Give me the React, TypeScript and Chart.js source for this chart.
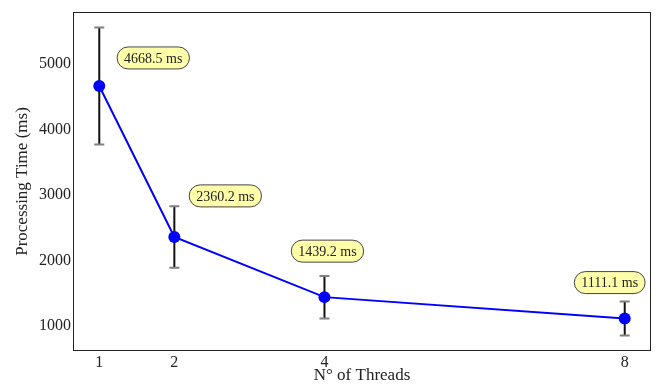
import React, { useEffect, useRef } from "react";
import { Chart, registerables } from "chart.js";

Chart.register(...registerables);

const threads = [1, 2, 4, 8];
const times = [4668.5, 2360.2, 1439.2, 1111.1];
const errors = [895, 470, 325, 260];
const yTicks = [1000, 2000, 3000, 4000, 5000];
const pointLabels = times.map((t) => `${t.toFixed(1)} ms`);

const FONT = "'Liberation Serif', 'Times New Roman', serif";
const LABEL_OFFSETS = [
  [54, -28],
  [51, -41],
  [3, -46],
  [-15, -36],
];

const lo = Math.min(...times.map((t, i) => t - errors[i]));
const hi = Math.max(...times.map((t, i) => t + errors[i]));
const pad = (hi - lo) * 0.05;
const xPad = (threads[threads.length - 1] - threads[0]) * 0.05;

const overlay = {
  id: "overlay",
  beforeDatasetsDraw(chart: any) {
    const { ctx, chartArea, scales } = chart;
    const xs = scales.x;
    const ys = scales.y;
    ctx.save();
    ctx.strokeStyle = "#222";
    ctx.lineWidth = 1;
    ctx.strokeRect(
      Math.round(chartArea.left) + 0.5,
      Math.round(chartArea.top) + 0.5,
      Math.round(chartArea.right - chartArea.left) - 1,
      Math.round(chartArea.bottom - chartArea.top) - 1
    );
    threads.forEach((t, i) => {
      const x = xs.getPixelForValue(t);
      const y1 = ys.getPixelForValue(times[i] + errors[i]);
      const y2 = ys.getPixelForValue(times[i] - errors[i]);
      ctx.strokeStyle = "#111";
      ctx.lineWidth = 2;
      ctx.beginPath();
      ctx.moveTo(x, y1);
      ctx.lineTo(x, y2);
      ctx.stroke();
      ctx.strokeStyle = "#808080";
      ctx.lineWidth = 2;
      ctx.beginPath();
      ctx.moveTo(x - 5, y1);
      ctx.lineTo(x + 5, y1);
      ctx.moveTo(x - 5, y2);
      ctx.lineTo(x + 5, y2);
      ctx.stroke();
    });
    ctx.restore();
  },
  afterDatasetsDraw(chart: any) {
    const { ctx, scales } = chart;
    const xs = scales.x;
    const ys = scales.y;
    ctx.save();
    ctx.font = `14px ${FONT}`;
    ctx.textAlign = "center";
    ctx.textBaseline = "middle";
    threads.forEach((t, i) => {
      const px = xs.getPixelForValue(t) + LABEL_OFFSETS[i][0];
      const py = ys.getPixelForValue(times[i]) + LABEL_OFFSETS[i][1];
      const text = pointLabels[i];
      const w = ctx.measureText(text).width + 14;
      const h = 22;
      const r = h / 2;
      ctx.beginPath();
      ctx.roundRect(px - w / 2, py - h / 2, w, h, r);
      ctx.fillStyle = "#ffffaa";
      ctx.fill();
      ctx.strokeStyle = "#444";
      ctx.lineWidth = 1;
      ctx.stroke();
      ctx.fillStyle = "#222";
      ctx.fillText(text, px, py + 1);
    });
    ctx.restore();
  },
};

export default function App() {
  const ref = useRef<HTMLCanvasElement>(null);
  useEffect(() => {
    document.body.style.margin = "0";
    const chart = new Chart(ref.current!, {
      type: "line",
      data: {
        datasets: [
          {
            data: threads.map((t, i) => ({ x: t, y: times[i] })),
            borderColor: "#0000ff",
            backgroundColor: "#0000ff",
            borderWidth: 2,
            pointRadius: 6,
            pointBackgroundColor: "#0000ff",
            pointBorderWidth: 0,
            tension: 0,
          },
        ],
      },
      options: {
        animation: false,
        responsive: false,
        maintainAspectRatio: false,
        layout: { padding: { left: 0, right: 5, top: 12, bottom: 0 } },
        plugins: { legend: { display: false }, tooltip: { enabled: false } },
        scales: {
          x: {
            type: "linear",
            min: threads[0] - xPad,
            max: threads[threads.length - 1] + xPad,
            grid: { display: false, drawTicks: false },
            border: { display: false },
            afterBuildTicks: (s: any) => {
              s.ticks = threads.map((v) => ({ value: v }));
            },
            afterFit: (s: any) => {
              s.height = 33;
            },
            ticks: {
              padding: 2,
              color: "#222",
              font: { family: FONT, size: 16 },
              callback: (v: any) => String(v),
            },
            title: {
              display: true,
              text: "N° of Threads",
              color: "#222",
              font: { family: FONT, size: 17, lineHeight: 1.0 },
              padding: 0,
            },
          },
          y: {
            min: lo - pad,
            max: hi + pad,
            grid: { display: false, drawTicks: false },
            border: { display: false },
            afterBuildTicks: (s: any) => {
              s.ticks = yTicks.map((v) => ({ value: v }));
            },
            afterFit: (s: any) => {
              s.width = 73;
            },
            ticks: {
              padding: 2,
              color: "#222",
              font: { family: FONT, size: 16 },
              callback: (v: any) => String(v),
            },
            title: {
              display: true,
              text: "Processing Time (ms)",
              color: "#222",
              font: { family: FONT, size: 17 },
              padding: { top: 12, bottom: 0 },
            },
          },
        },
      },
      plugins: [overlay],
    });
    return () => chart.destroy();
  }, []);
  return (
    <div style={{ width: 657, height: 384 }}>
      <canvas ref={ref} width={657} height={384} style={{ display: "block" }} />
    </div>
  );
}
